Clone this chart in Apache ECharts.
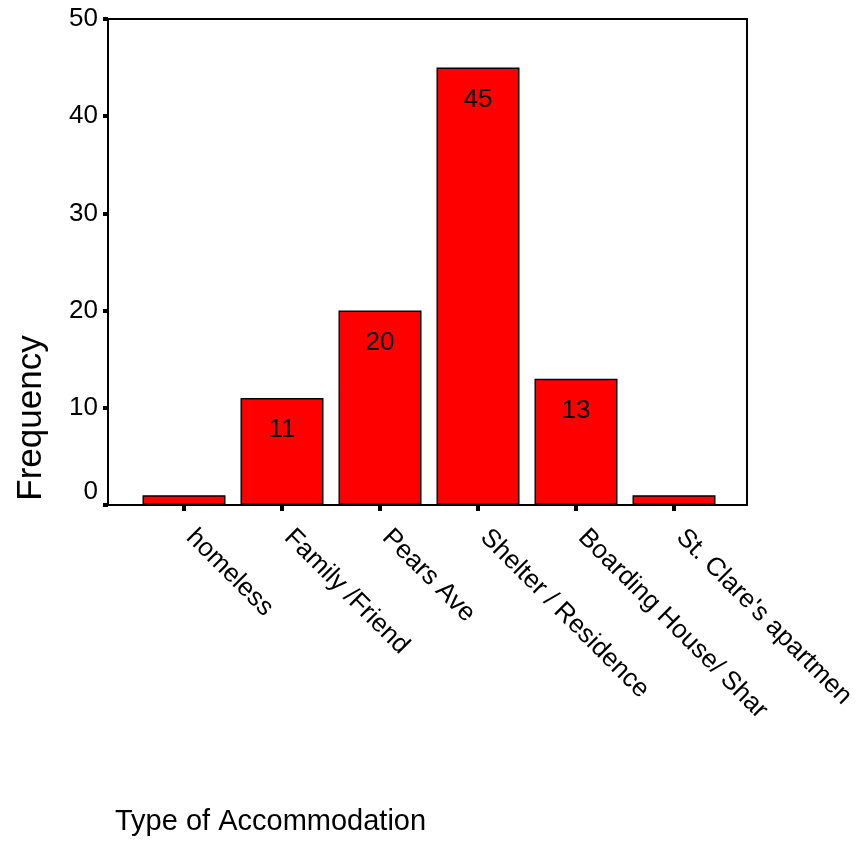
<!DOCTYPE html>
<html>
<head>
<meta charset="utf-8">
<script src="https://cdn.jsdelivr.net/npm/echarts@6/dist/echarts.min.js"></script>
<style>
html,body{margin:0;padding:0;background:#fff;}
#chart{width:863px;height:843px;}
</style>
</head>
<body>
<div id="chart"></div>
<script>
const categories = ["homeless", "Family /Friend", "Pears Ave", "Shelter / Residence", "Boarding House/ Shar", "St. Clare's apartmen"];
const frequency = [1, 11, 20, 45, 13, 1];
const barLabels = ["", "11", "20", "45", "13", ""];
const yTicks = [0, 10, 20, 30, 40, 50];

const FONT = "'Liberation Sans', Arial, sans-serif";
const chart = echarts.init(document.getElementById('chart'), null, {renderer: 'canvas'});
chart.setOption({
  animation: false,
  backgroundColor: '#fff',
  title: {
    text: 'Type of Accommodation',
    left: 110, top: 802,
    textStyle: {fontFamily: FONT, fontSize: 29, fontWeight: 'normal', color: '#000'}
  },
  graphic: [{
    type: 'text', x: 31, y: 418, rotation: Math.PI / 2,
    style: {text: 'Frequency', fontFamily: FONT, fontSize: 35, fill: '#000', align: 'center', verticalAlign: 'middle'}
  }],
  grid: [
    {left: 135, width: 588, top: 19, height: 486, containLabel: false, outerBoundsMode: 'none'},
    {left: 108, width: 639, top: 19, height: 486, show: true, borderColor: '#000', borderWidth: 2, backgroundColor: 'transparent', z: 3, outerBoundsMode: 'none'}
  ],
  xAxis: [
    {
      type: 'category', gridIndex: 0, data: categories,
      axisLine: {show: true, lineStyle: {color: '#000', width: 2}},
      axisTick: {show: true, alignWithLabel: true, length: 6, lineStyle: {color: '#000', width: 4}},
      axisLabel: {rotate: -45, margin: 22, interval: 0, padding: [0, 0, 10, 9], fontFamily: FONT, fontSize: 26, color: '#000'}
    },
    {type: 'value', gridIndex: 1, show: false, min: 0, max: 1}
  ],
  yAxis: [
    {
      type: 'value', gridIndex: 0, min: yTicks[0], max: yTicks[yTicks.length - 1], interval: 10, offset: 27,
      splitLine: {show: false},
      axisLine: {show: true, lineStyle: {color: '#000', width: 2}},
      axisTick: {show: true, length: 5, lineStyle: {color: '#000', width: 4}},
      axisLabel: {
        margin: 10, fontFamily: FONT, fontSize: 26, color: '#000',
        formatter: v => v === 0 ? '{z|0}' : String(v),
        rich: {z: {fontFamily: FONT, fontSize: 26, color: '#000', padding: [0, 0, 26, 0]}}
      }
    },
    {type: 'value', gridIndex: 1, show: false, min: 0, max: 1}
  ],
  series: [{
    type: 'bar', xAxisIndex: 0, yAxisIndex: 0,
    data: frequency,
    barWidth: 83,
    itemStyle: {color: '#ff0000', borderColor: '#000', borderWidth: 1.5},
    label: {
      show: true, position: 'insideTop', distance: 19,
      fontFamily: FONT, fontSize: 26, color: '#000',
      formatter: p => barLabels[p.dataIndex]
    }
  }]
});
</script>
</body>
</html>
